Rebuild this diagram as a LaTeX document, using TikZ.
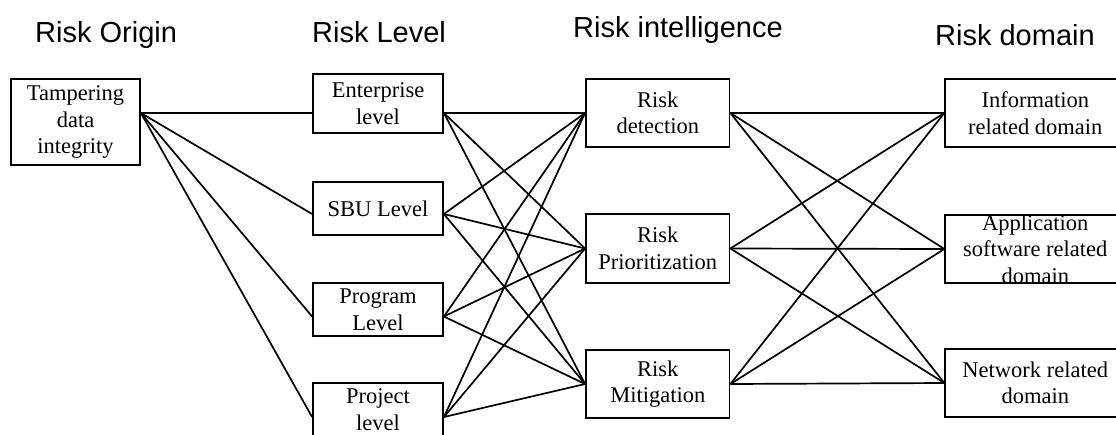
\documentclass[tikz,border=0pt]{standalone}
\usepackage{fontspec}
\setmainfont{Liberation Serif}
\newfontfamily\titlefont{Liberation Sans}
\begin{document}
\begin{tikzpicture}[x=1pt,y=-1pt,
  box/.style={draw, line width=1.8pt, inner sep=0pt},
  lvbox/.style={box, minimum width=130pt, minimum height=53pt},
  inbox/.style={box, minimum width=143.5pt, minimum height=68pt},
  dmbox/.style={box, minimum width=180pt, minimum height=68pt},
  txt/.style={font=\fontsize{22.5}{26.5}\selectfont, align=center, inner sep=0pt},
  ttl/.style={font=\titlefont\fontsize{29}{34}\selectfont, anchor=base west, inner sep=0pt},
  conn/.style={line width=1.7pt}]
\useasboundingbox (0,0) rectangle (1116,434);

% titles
\node[ttl] (t1) at (35,42) {Risk Origin};
\node[ttl] (t2) at (312,42) {Risk Level};
\node[ttl] (t3) at (573,37) {Risk intelligence};
\node[ttl] (t4) at (935,45) {Risk domain};

% boxes
\node[box, minimum width=129pt, minimum height=86pt] (tamp) at (75.5,122) {};
\node[lvbox, minimum height=59pt] (ent) at (378,103.5) {};
\node[lvbox] (sbu) at (378,208.5) {};
\node[lvbox] (prog) at (378,309.5) {};
\node[lvbox] (proj) at (378,409.5) {};
\node[inbox] (det) at (657.75,113) {};
\node[inbox, minimum height=69pt] (pri) at (657.75,248.5) {};
\node[inbox] (mit) at (657.75,384) {};
\node[dmbox] (info) at (1035.25,113) {};
\node[dmbox] (app) at (1035.25,249) {};
\node[dmbox] (net) at (1035.25,383) {};

% texts
\node[txt] (tampT) at (tamp.center) {Tampering\\data\\integrity};
\node[txt] (entT) at (ent.center) {Enterprise\\level};
\node[txt] (sbuT) at (sbu.center) {SBU Level};
\node[txt] (progT) at (prog.center) {Program\\Level};
\node[txt] (projT) at (proj.center) {Project\\level};
\node[txt] (detT) at (det.center) {Risk\\detection};
\node[txt] (priT) at (pri.center) {Risk\\Prioritization};
\node[txt] (mitT) at (mit.center) {Risk\\Mitigation};
\node[txt] (infoT) at (info.center) {Information\\related domain};
\node[txt] (appT) at (app.center) {Application\\software related\\domain};
\node[txt] (netT) at (net.center) {Network related\\domain};

% anchor points
\coordinate (tampR) at ([yshift=9pt]tamp.east);
\coordinate (entL) at ([yshift=-9.5pt]ent.west);
\coordinate (entR) at ([yshift=-9.5pt]ent.east);
\coordinate (sbuL) at ([yshift=-5.5pt]sbu.west);
\coordinate (sbuR) at ([yshift=-5.5pt]sbu.east);
\coordinate (progL) at ([yshift=-7pt]prog.west);
\coordinate (progR) at ([yshift=-7pt]prog.east);
\coordinate (projL) at ([yshift=-7.5pt]proj.west);
\coordinate (projR) at ([yshift=-7.5pt]proj.east);

% connectors
\foreach \a in {entL,sbuL,progL,projL}
  \draw[conn] (tampR) -- (\a);
\foreach \a in {entR,sbuR,progR,projR}
  \foreach \b in {det,pri,mit}
    \draw[conn] (\a) -- (\b.west);
\foreach \a in {det,pri,mit}
  \foreach \b in {info,app,net}
    \draw[conn] (\a.east) -- (\b.west);
\end{tikzpicture}
\end{document}
